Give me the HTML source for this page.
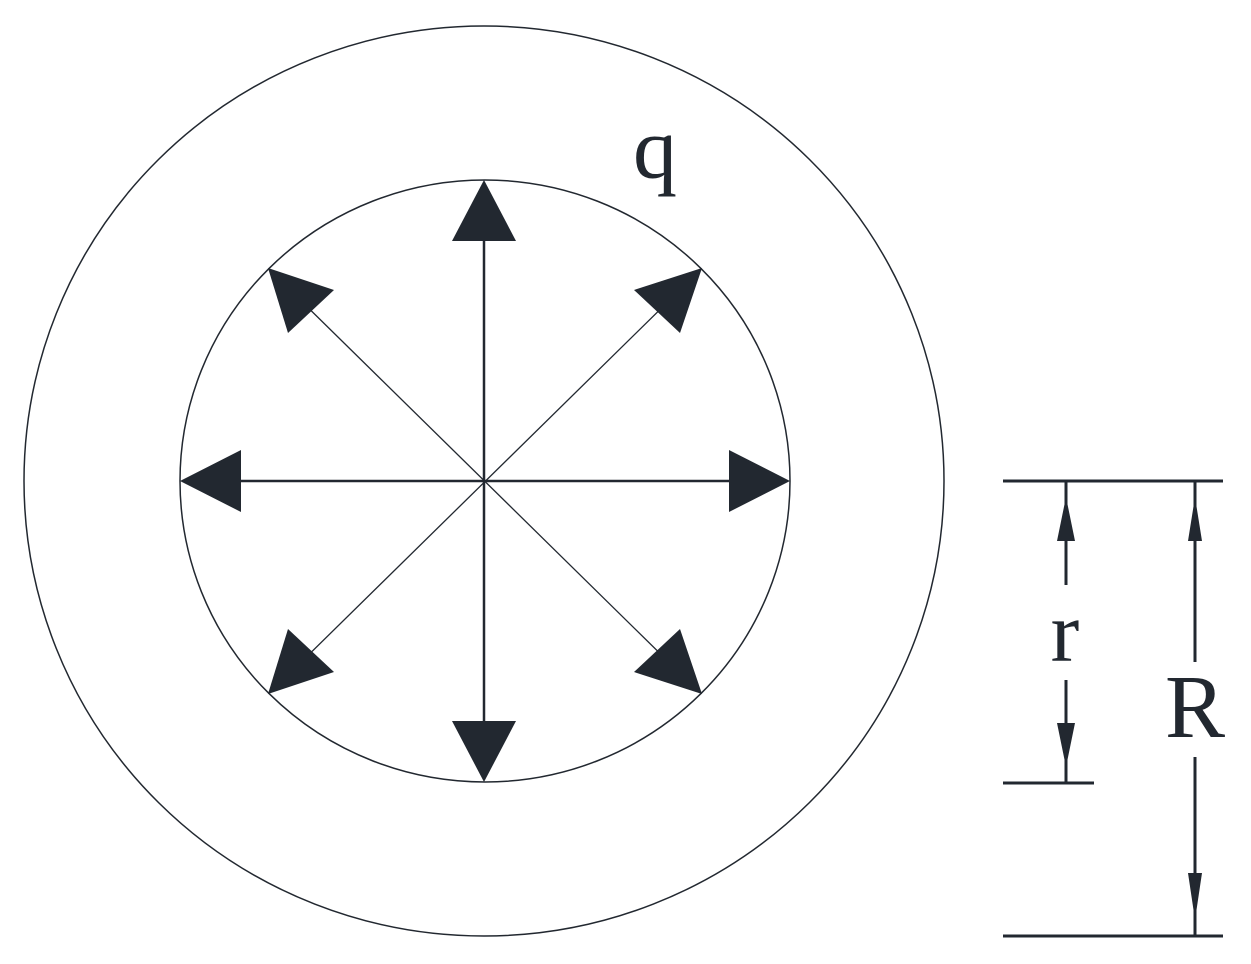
<!DOCTYPE html>
<html><head><style>body{margin:0;background:#fff}svg{display:block}</style></head><body>
<svg width="1251" height="964" viewBox="0 0 1251 964" xmlns="http://www.w3.org/2000/svg">
<g fill="none" stroke="#222830">
<ellipse cx="484" cy="481" rx="460" ry="455" stroke-width="1.5"/>
<ellipse cx="485" cy="481" rx="305" ry="301" stroke-width="1.5"/>
<line x1="484" y1="200" x2="484" y2="762" stroke-width="2.5"/>
<line x1="200" y1="481" x2="770" y2="481" stroke-width="2.5"/>
<line x1="285" y1="285" x2="685" y2="678" stroke-width="1.3"/>
<line x1="685" y1="285" x2="285" y2="678" stroke-width="1.3"/>
<g stroke-width="3">
<line x1="1003" y1="481" x2="1223" y2="481"/>
<line x1="1003" y1="783" x2="1094" y2="783"/>
<line x1="1003" y1="936" x2="1223" y2="936"/>
<line x1="1066" y1="481" x2="1066" y2="585"/>
<line x1="1066" y1="680" x2="1066" y2="783"/>
<line x1="1195" y1="481" x2="1195" y2="662"/>
<line x1="1195" y1="757" x2="1195" y2="936"/>
</g>
</g>
<g fill="#222830">
<polygon points="484,180 452,241 516,241"/>
<polygon points="484,782 452,721 516,721"/>
<polygon points="180,481 241,450 241,512"/>
<polygon points="790,481 729,450 729,512"/>
<polygon points="702,268 634,290 680,333"/>
<polygon points="268,268 334,290 288,333"/>
<polygon points="702,694 634,672 680,629"/>
<polygon points="268,694 334,672 288,629"/>
<polygon points="1066,497 1057,541 1075,541"/>
<polygon points="1066,767 1057,723 1075,723"/>
<polygon points="1195,497 1188,541 1202,541"/>
<polygon points="1195,920 1188,873 1202,873"/>
</g>
<g font-family="Liberation Serif, serif" fill="#222830" text-anchor="middle">
<text x="655" y="178" font-size="88">q</text>
<text x="1065" y="661" font-size="86">r</text>
<text x="1195" y="737" font-size="90">R</text>
</g>
</svg>
</body></html>
